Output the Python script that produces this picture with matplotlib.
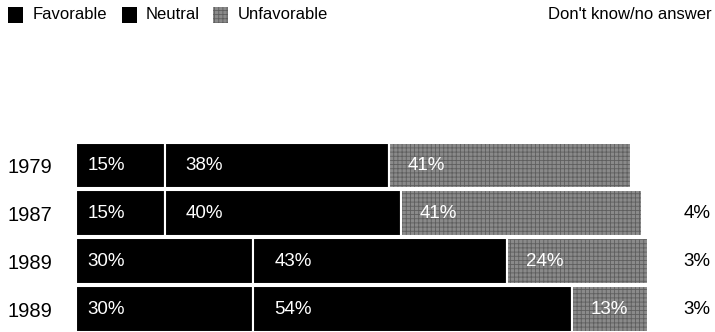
import matplotlib
matplotlib.use("Agg")
import matplotlib.pyplot as plt
from matplotlib.patches import Rectangle

plt.rcParams['font.family'] = ['Liberation Sans', 'DejaVu Sans']

years = ["1979", "1987", "1989", "1989"]
favorable = [15, 15, 30, 30]
neutral = [38, 40, 43, 54]
unfavorable = [41, 41, 24, 13]
dont_know = [None, 4, 3, 3]

series_names = ["Favorable", "Neutral", "Unfavorable", "Don't know/no answer"]

W, H = 715, 332
fig = plt.figure(figsize=(W / 100, H / 100), dpi=100)
ax_left, ax_top, ax_bottom = 76, 142.5, 332
ax = fig.add_axes([ax_left / W, 1 - ax_bottom / H, (W - ax_left) / W, (ax_bottom - ax_top) / H])

ppu = 5.9  # pixels per percent
ax.set_xlim(0, (W - ax_left) / ppu)
ax.set_ylim(3.475, -0.475)

pos = list(range(len(years)))
hgt = 0.95
fs = 13.5

# favorable
ax.barh(pos, favorable, height=hgt, color='black', edgecolor='white', linewidth=1.5)
# neutral
ax.barh(pos, neutral, left=favorable, height=hgt, color='black', edgecolor='white', linewidth=1.5)
# unfavorable (textured gray)
left_u = [f + n for f, n in zip(favorable, neutral)]
plt.rcParams['hatch.linewidth'] = 0.6
ax.barh(pos, unfavorable, left=left_u, height=hgt, color='#8a8a8a', edgecolor='#5e5e5e',
        linewidth=0, hatch='++++')
ax.barh(pos, unfavorable, left=left_u, height=hgt, facecolor='none', edgecolor='white', linewidth=1.5)

for i in pos:
    ax.text(2.0, i, f"{favorable[i]}%", color='white', va='center', ha='left', fontsize=fs)
    ax.text(favorable[i] + 3.6, i, f"{neutral[i]}%", color='white', va='center', ha='left', fontsize=fs)
    ax.text(left_u[i] + 3.2, i, f"{unfavorable[i]}%", color='white', va='center', ha='left', fontsize=fs)
    if dont_know[i] is not None:
        ax.text(107.5, i, f"{dont_know[i]}%", color='black', va='center', ha='right', fontsize=fs)

ax.set_yticks(pos)
ax.set_yticklabels(years, fontsize=14.5)
ax.tick_params(axis='y', length=0, pad=17)
ax.set_xticks([])
for s in ax.spines.values():
    s.set_visible(False)

# legend
def fx(px):
    return px / W

def fy(py):
    return 1 - py / H

legend_items = [
    (8, 33, series_names[0], 'black', None),
    (122, 146, series_names[1], 'black', None),
    (213, 238, series_names[2], '#8a8a8a', '++++'),
]
for sx, tx, name, col, hatch in legend_items:
    r = Rectangle((fx(sx), fy(23)), 15 / W, 16 / H, transform=fig.transFigure,
                  facecolor=col, edgecolor='#5e5e5e' if hatch else col, linewidth=0, hatch=hatch)
    fig.add_artist(r)
    fig.text(fx(tx), fy(14.5), name, fontsize=12, va='center', ha='left')
fig.text(fx(712), fy(14.5), series_names[3], fontsize=12, va='center', ha='right')

fig.savefig("out.png", dpi=100)
